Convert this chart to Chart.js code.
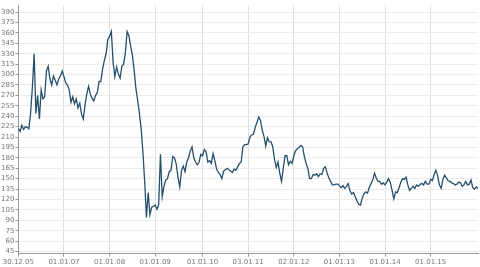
<!DOCTYPE html>
<html>
<head>
<meta charset="utf-8">
<script src="https://cdn.jsdelivr.net/npm/chart.js@4/dist/chart.umd.min.js"></script>
<style>
    html, body { margin: 0; padding: 0; background: #fff; }
    #wrap { width: 480px; height: 267px; position: relative; }
</style>
</head>
<body>
<div id="wrap"><canvas id="priceChart"></canvas></div>
<script>
// closing price, one reading every 14 days starting 30.12.2005
const price = [
    222, 218, 227, 221, 225, 224, 222, 245, 282, 330,
    244, 270, 236, 278, 265, 268, 305, 312, 294, 285,
    298, 292, 285, 294, 298, 305, 297, 288, 285, 278,
    260, 268, 258, 265, 252, 259, 243, 236, 256, 272,
    283, 272, 266, 262, 270, 274, 290, 290, 308, 320,
    330, 351, 355, 362, 318, 297, 311, 301, 295, 312,
    315, 332, 362, 356, 341, 328, 306, 280, 263, 244,
    222, 188, 146, 94, 130, 98, 109, 110, 112, 106,
    113, 185, 124, 139, 148, 150, 160, 162, 182, 180,
    171, 152, 138, 162, 168, 160, 174, 180, 190, 196,
    180, 174, 170, 174, 185, 183, 192, 189, 174, 176,
    172, 186, 176, 164, 159, 156, 150, 161, 163, 165,
    163, 161, 159, 164, 162, 167, 172, 174, 196, 199,
    199, 200, 210, 213, 214, 224, 231, 239, 234, 220,
    211, 197, 209, 203, 203, 196, 178, 166, 174, 158,
    146, 165, 183, 183, 170, 175, 172, 183, 190, 193,
    195, 198, 196, 182, 172, 165, 150, 150, 156, 155,
    157, 153, 157, 156, 165, 167, 158, 151, 146, 141,
    141, 142, 142, 140, 137, 140, 136, 139, 143, 133,
    128, 130, 124, 118, 113, 112, 122, 128, 131, 129,
    137, 143, 148, 158, 151, 146, 146, 142, 144, 141,
    145, 150, 145, 133, 121, 131, 130, 137, 145, 150,
    149, 152, 141, 133, 136, 139, 136, 141, 139, 142,
    143, 141, 146, 142, 142, 149, 147, 156, 162, 154,
    141, 136, 149, 155, 151, 147, 146, 144, 143, 141,
    142, 145, 144, 139, 141, 146, 141, 142, 148, 137,
    135, 138, 136
];

const xTickLabels = ["30.12.05", "01.01.07", "01.01.08", "01.01.09", "01.01.10",
    "03.01.11", "02.01.12", "01.01.13", "01.01.14", "01.01.15"];

const yTicks = [45, 60, 75, 90, 105, 120, 135, 150, 165, 180, 195, 210, 225,
    240, 255, 270, 285, 300, 315, 330, 345, 360, 375, 390];

document.addEventListener("DOMContentLoaded", function () {
    const DAY = 86400000;
    const STEP = 14 * DAY;
    const t0 = Date.UTC(2005, 11, 30);

    const pad = (n) => String(n).padStart(2, "0");
    const fmt = (t) => {
        const d = new Date(t);
        return pad(d.getUTCDate()) + "." + pad(d.getUTCMonth() + 1) + "." + pad(d.getUTCFullYear() % 100);
    };
    const labels = price.map((_, i) => fmt(t0 + i * STEP));

    // place each date tick on the nearest reading
    const tickIdx = xTickLabels.map((s) => {
        const p = s.split(".").map(Number);
        const t = Date.UTC(2000 + p[2], p[1] - 1, p[0]);
        return Math.round((t - t0) / STEP);
    });

    const tickFont = { family: "DejaVu Sans", size: 7 };

    const ctx = document.getElementById("priceChart");
    new Chart(ctx, {
        type: "line",
        data: {
            labels: labels,
            datasets: [
                {
                    data: price,
                    borderColor: "#244f6d",
                    borderWidth: 1.3,
                    pointRadius: 0,
                    tension: 0,
                    fill: false,
                },
            ],
        },
        options: {
            responsive: true,
            maintainAspectRatio: false,
            animation: false,
            layout: { padding: { top: 3, right: 2, left: 0, bottom: 0 } },
            plugins: { legend: { display: false }, tooltip: { enabled: false } },
            scales: {
                x: {
                    afterBuildTicks: (scale) => {
                        scale.ticks = tickIdx.map((i) => ({ value: i }));
                    },
                    ticks: {
                        autoSkip: false,
                        maxRotation: 0,
                        padding: 1,
                        color: "#777",
                        font: tickFont,
                        callback: (v) => {
                            const k = tickIdx.indexOf(v);
                            return k >= 0 ? xTickLabels[k] : "";
                        },
                    },
                    grid: { color: "#dedede", tickLength: 3, tickColor: "#999" },
                    border: { color: "#999" },
                },
                y: {
                    min: 42,
                    max: 400,
                    afterBuildTicks: (scale) => {
                        scale.ticks = yTicks.map((v) => ({ value: v }));
                    },
                    ticks: { autoSkip: false, padding: 1, color: "#777", font: tickFont },
                    grid: { color: "#ebebeb", tickLength: 3, tickColor: "#999" },
                    border: { color: "#999" },
                },
            },
        },
    });
});
</script>
</body>
</html>
